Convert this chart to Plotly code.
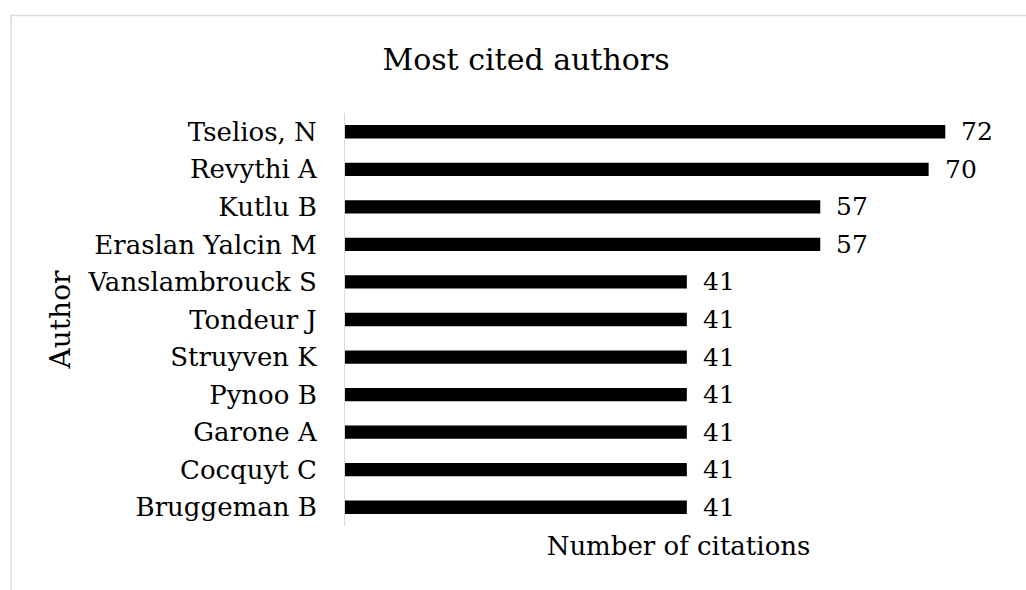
import plotly.graph_objects as go

authors = ["Tselios, N", "Revythi A", "Kutlu B", "Eraslan Yalcin M", "Vanslambrouck S",
           "Tondeur J", "Struyven K", "Pynoo B", "Garone A", "Cocquyt C", "Bruggeman B"]
citations = [72, 70, 57, 57, 41, 41, 41, 41, 41, 41, 41]

title_text = "Most cited authors"
x_title = "Number of citations"
y_title = "Author"

FONT = "DejaVu Serif"

fig = go.Figure()
fig.add_trace(go.Bar(
    x=citations, y=authors, orientation="h",
    marker=dict(color="#000000", line=dict(width=0)),
    hoverinfo="skip",
))

for a, c in zip(authors, citations):
    fig.add_annotation(x=c, y=a, text=str(c), showarrow=False,
                       xanchor="left", yanchor="middle", xshift=14,
                       font=dict(family=FONT, size=25, color="#000000"))

fig.update_layout(
    width=1026, height=590,
    margin=dict(l=345, r=14, t=113, b=64),
    paper_bgcolor="white", plot_bgcolor="white",
    bargap=0.645,
    showlegend=False,
    font=dict(family=FONT, size=26, color="#000000"),
    title=dict(text=title_text, x=526/1026, xref="container", xanchor="center",
               y=1 - 59/590, yref="container", yanchor="middle",
               font=dict(family=FONT, size=30, color="#000000")),
    xaxis=dict(range=[0, 80], showticklabels=False, showgrid=False, zeroline=False,
               showline=False, ticks="",
               title=dict(text=x_title, standoff=10, font=dict(family=FONT, size=26))),
    yaxis=dict(autorange="reversed", showgrid=False, zeroline=False,
               showline=True, linecolor="#d9d9d9", linewidth=1, ticks="",
               ticklabelstandoff=22,
               tickfont=dict(family=FONT, size=26),
               title=dict(text=y_title, standoff=8, font=dict(family=FONT, size=28))),
)

fig.add_shape(type="rect", xref="paper", yref="paper",
              x0=(11 - 345) / 667, x1=1.2, y0=-0.3, y1=(526 - 15.5) / 413,
              line=dict(color="#d9d9d9", width=1.5), fillcolor="rgba(0,0,0,0)",
              layer="below")

fig.write_html("out.html")
